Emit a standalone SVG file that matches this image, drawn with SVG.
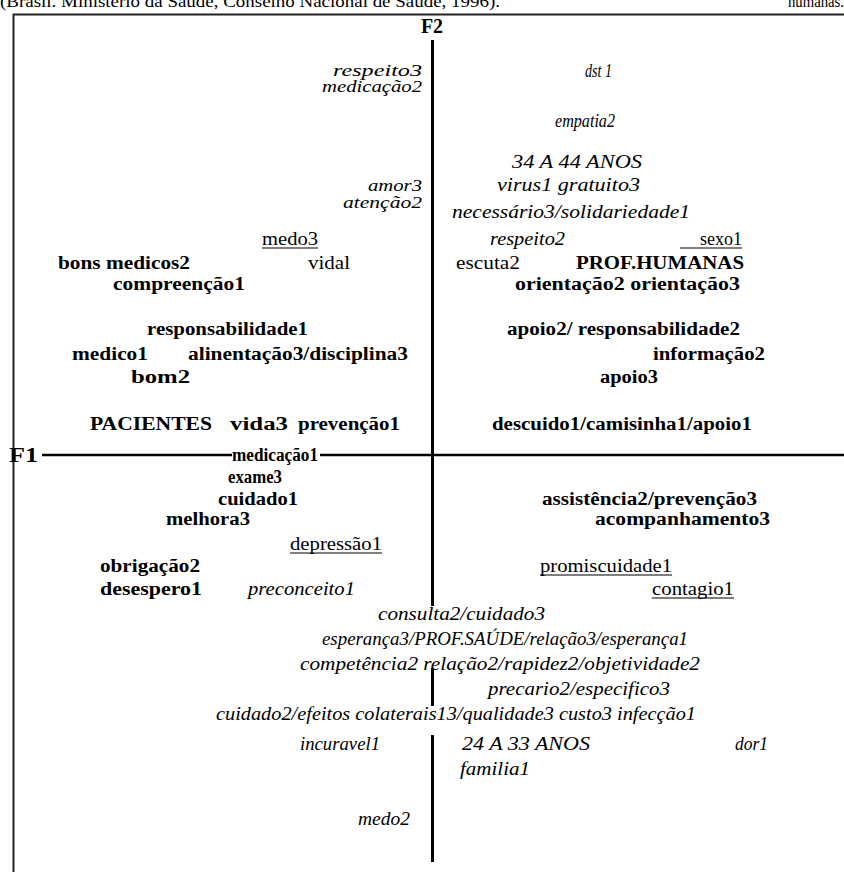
<svg xmlns="http://www.w3.org/2000/svg" width="844" height="872" viewBox="0 0 844 872">
<style>
text{font-family:'Liberation Serif','Times New Roman',serif;font-size:18px;fill:#000}
.b{font-weight:bold}
.i{font-style:italic}
.s{font-size:16px}
.ax{font-weight:bold;font-size:20px}
.cap{font-size:16px}
.ul{stroke:#000;stroke-width:1.2}
</style>
<rect width="844" height="872" fill="#fff"/>
<text class="cap" x="0" y="7" textLength="500" lengthAdjust="spacingAndGlyphs">(Brasil. Ministério da Saúde, Conselho Nacional de Saúde, 1996).</text>
<text class="cap" x="788" y="7" textLength="56" lengthAdjust="spacingAndGlyphs">humanas.</text>
<g id="frame"><path d="M13.5 872V14.5H844" fill="none" stroke="#222" stroke-width="2"/></g>
<g id="connectors" stroke="#000" fill="none">
<path d="M432.5 40V606M432.5 668V706M432.5 735V862" stroke-width="3"/>
<path d="M42 455H232M320 455H844" stroke-width="2.5"/>
</g>
<g id="axis-F2"><text class="ax" x="432" y="33" text-anchor="middle">F2</text></g>
<g id="axis-F1"><text class="ax" x="9" y="462" textLength="29" lengthAdjust="spacingAndGlyphs">F1</text></g>
<g id="respeito3"><text class="i s" x="333" y="76" textLength="89" lengthAdjust="spacingAndGlyphs">respeito3</text></g>
<g id="medicacao2"><text class="i s" x="322" y="92" textLength="100" lengthAdjust="spacingAndGlyphs">medicação2</text></g>
<g id="dst1"><text class="i" x="585" y="77" textLength="27" lengthAdjust="spacingAndGlyphs">dst 1</text></g>
<g id="empatia2"><text class="i" x="555" y="127" textLength="60" lengthAdjust="spacingAndGlyphs">empatia2</text></g>
<g id="anos34"><text class="i" x="512" y="168" textLength="130" lengthAdjust="spacingAndGlyphs">34 A 44 ANOS</text></g>
<g id="amor3"><text class="i s" x="368" y="191" textLength="54" lengthAdjust="spacingAndGlyphs">amor3</text></g>
<g id="virus1"><text class="i" x="497" y="191" textLength="143" lengthAdjust="spacingAndGlyphs">virus1  gratuito3</text></g>
<g id="atencao2"><text class="i s" x="343" y="208" textLength="79" lengthAdjust="spacingAndGlyphs">atenção2</text></g>
<g id="necessario3"><text class="i" x="452" y="218" textLength="238" lengthAdjust="spacingAndGlyphs">necessário3/solidariedade1</text></g>
<g id="medo3"><text x="262" y="245" textLength="56" lengthAdjust="spacingAndGlyphs">medo3</text><line class="ul" x1="262" y1="248" x2="318" y2="248"/></g>
<g id="respeito2"><text class="i" x="490" y="245" textLength="75" lengthAdjust="spacingAndGlyphs">respeito2</text></g>
<g id="sexo1"><text x="700" y="245" textLength="42" lengthAdjust="spacingAndGlyphs">sexo1</text><line class="ul" x1="680" y1="248" x2="742" y2="248"/></g>
<g id="bonsmedicos2"><text class="b" x="58" y="269" textLength="132" lengthAdjust="spacingAndGlyphs">bons medicos2</text></g>
<g id="vidal"><text x="308" y="269" textLength="42" lengthAdjust="spacingAndGlyphs">vidal</text></g>
<g id="escuta2"><text x="456" y="269" textLength="64" lengthAdjust="spacingAndGlyphs">escuta2</text></g>
<g id="profhumanas"><text class="b" x="576" y="269" textLength="168" lengthAdjust="spacingAndGlyphs">PROF.HUMANAS</text></g>
<g id="compreencao1"><text class="b" x="113" y="290" textLength="132" lengthAdjust="spacingAndGlyphs">compreenção1</text></g>
<g id="orientacao"><text class="b" x="515" y="290" textLength="225" lengthAdjust="spacingAndGlyphs">orientação2   orientação3</text></g>
<g id="responsabilidade1"><text class="b" x="147" y="335" textLength="161" lengthAdjust="spacingAndGlyphs">responsabilidade1</text></g>
<g id="apoio2"><text class="b" x="507" y="335" textLength="233" lengthAdjust="spacingAndGlyphs">apoio2/ responsabilidade2</text></g>
<g id="medico1"><text class="b" x="72" y="360" textLength="76" lengthAdjust="spacingAndGlyphs">medico1</text></g>
<g id="alinentacao3"><text class="b" x="188" y="360" textLength="220" lengthAdjust="spacingAndGlyphs">alinentação3/disciplina3</text></g>
<g id="informacao2"><text class="b" x="653" y="360" textLength="112" lengthAdjust="spacingAndGlyphs">informação2</text></g>
<g id="bom2"><text class="b" x="131" y="383" textLength="59" lengthAdjust="spacingAndGlyphs">bom2</text></g>
<g id="apoio3"><text class="b" x="600" y="383" textLength="58" lengthAdjust="spacingAndGlyphs">apoio3</text></g>
<g id="pacientes"><text class="b" x="90" y="430" textLength="122" lengthAdjust="spacingAndGlyphs">PACIENTES</text></g>
<g id="vida3"><text class="b" x="230" y="430" textLength="58" lengthAdjust="spacingAndGlyphs">vida3</text></g>
<g id="prevencao1"><text class="b" x="298" y="430" textLength="102" lengthAdjust="spacingAndGlyphs">prevenção1</text></g>
<g id="descuido1"><text class="b" x="492" y="430" textLength="260" lengthAdjust="spacingAndGlyphs">descuido1/camisinha1/apoio1</text></g>
<g id="medicacao1"><text class="b" x="232" y="461" textLength="86" lengthAdjust="spacingAndGlyphs">medicação1</text></g>
<g id="exame3"><text class="b" x="228" y="483" textLength="54" lengthAdjust="spacingAndGlyphs">exame3</text></g>
<g id="cuidado1"><text class="b" x="218" y="505" textLength="80" lengthAdjust="spacingAndGlyphs">cuidado1</text></g>
<g id="assistencia2"><text class="b" x="542" y="505" textLength="215" lengthAdjust="spacingAndGlyphs">assistência2/prevenção3</text></g>
<g id="melhora3"><text class="b" x="166" y="525" textLength="84" lengthAdjust="spacingAndGlyphs">melhora3</text></g>
<g id="acompanhamento3"><text class="b" x="595" y="525" textLength="175" lengthAdjust="spacingAndGlyphs">acompanhamento3</text></g>
<g id="depressao1"><text x="290" y="550" textLength="92" lengthAdjust="spacingAndGlyphs">depressão1</text><line class="ul" x1="290" y1="553" x2="382" y2="553"/></g>
<g id="obrigacao2"><text class="b" x="100" y="572" textLength="100" lengthAdjust="spacingAndGlyphs">obrigação2</text></g>
<g id="promiscuidade1"><text x="540" y="572" textLength="132" lengthAdjust="spacingAndGlyphs">promiscuidade1</text><line class="ul" x1="540" y1="575" x2="672" y2="575"/></g>
<g id="desespero1"><text class="b" x="100" y="595" textLength="102" lengthAdjust="spacingAndGlyphs">desespero1</text></g>
<g id="preconceito1"><text class="i" x="248" y="595" textLength="107" lengthAdjust="spacingAndGlyphs">preconceito1</text></g>
<g id="contagio1"><text x="652" y="595" textLength="82" lengthAdjust="spacingAndGlyphs">contagio1</text><line class="ul" x1="652" y1="598" x2="734" y2="598"/></g>
<g id="consulta2"><text class="i" x="378" y="620" textLength="167" lengthAdjust="spacingAndGlyphs">consulta2/cuidado3</text></g>
<g id="esperanca3"><text class="i" x="322" y="645" textLength="366" lengthAdjust="spacingAndGlyphs">esperança3/PROF.SAÚDE/relação3/esperança1</text></g>
<g id="competencia2"><text class="i" x="300" y="670" textLength="400" lengthAdjust="spacingAndGlyphs">competência2  relação2/rapidez2/objetividade2</text></g>
<g id="precario2"><text class="i" x="488" y="695" textLength="182" lengthAdjust="spacingAndGlyphs">precario2/especifico3</text></g>
<g id="cuidado2"><text class="i" x="216" y="720" textLength="480" lengthAdjust="spacingAndGlyphs">cuidado2/efeitos colaterais13/qualidade3 custo3 infecção1</text></g>
<g id="incuravel1"><text class="i" x="300" y="750" textLength="80" lengthAdjust="spacingAndGlyphs">incuravel1</text></g>
<g id="anos24"><text class="i" x="462" y="750" textLength="128" lengthAdjust="spacingAndGlyphs">24 A 33 ANOS</text></g>
<g id="dor1"><text class="i" x="735" y="750" textLength="33" lengthAdjust="spacingAndGlyphs">dor1</text></g>
<g id="familia1"><text class="i" x="460" y="775" textLength="70" lengthAdjust="spacingAndGlyphs">familia1</text></g>
<g id="medo2"><text class="i" x="358" y="825" textLength="52" lengthAdjust="spacingAndGlyphs">medo2</text></g>
</svg>
